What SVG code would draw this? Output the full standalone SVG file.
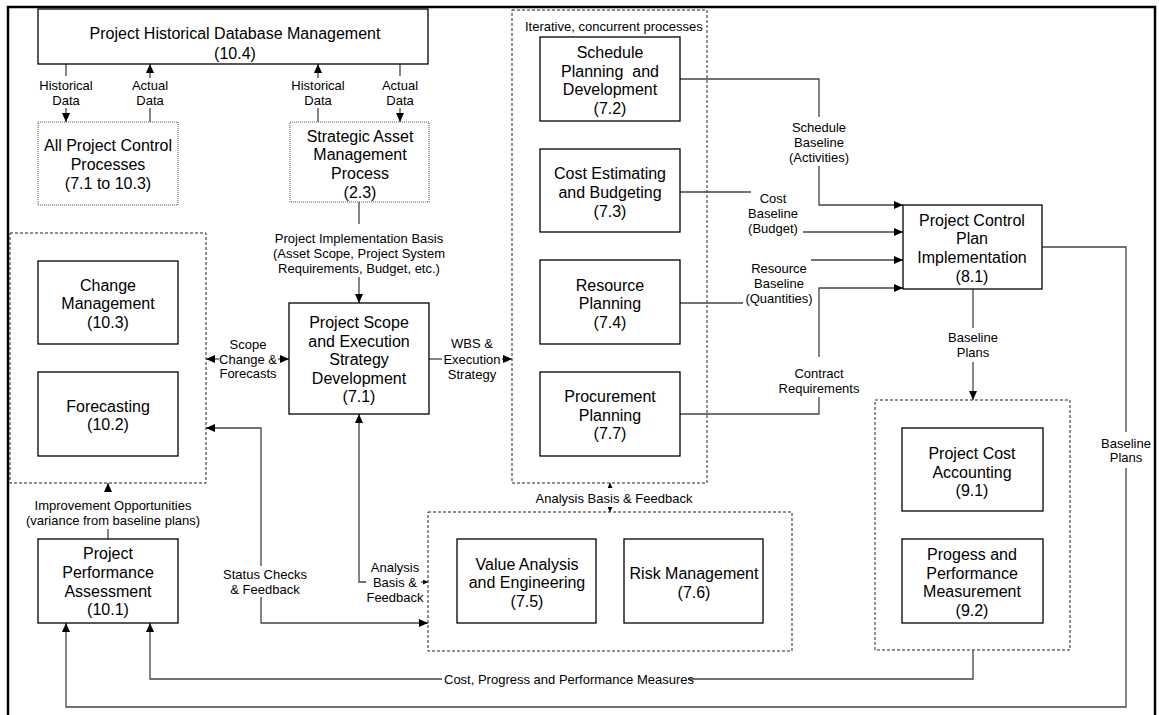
<svg xmlns="http://www.w3.org/2000/svg" width="1159" height="715" viewBox="0 0 1159 715">
  <style>
    .box { fill: #fff; stroke: #000; stroke-width: 1.3; }
    .dot { fill: #fff; stroke: #555; stroke-width: 1; stroke-dasharray: 1 1; }
    .dash { fill: none; stroke: #222; stroke-width: 1; stroke-dasharray: 3 2; }
    .ln { fill: none; stroke: #444; stroke-width: 1.3; }
    .t { font-family: "Liberation Sans", Arial, sans-serif; font-size: 16px; text-anchor: middle; fill: #000; }
    .s { font-family: "Liberation Sans", Arial, sans-serif; font-size: 13px; text-anchor: middle; fill: #000; }
  </style>
  <defs>
    <marker id="ah" markerUnits="userSpaceOnUse" viewBox="0 0 9 8" markerWidth="9" markerHeight="8" refX="9" refY="4" orient="auto">
      <path d="M0,0 L9,4 L0,8 z" fill="#000"/>
    </marker>
    <marker id="sm" markerUnits="userSpaceOnUse" viewBox="0 0 5 5" markerWidth="5" markerHeight="5" refX="5" refY="2.5" orient="auto">
      <path d="M0,0 L5,2.5 L0,5 z" fill="#000"/>
    </marker>
  </defs>

  <rect x="8" y="7" width="1147" height="720" fill="#fff" stroke="#000" stroke-width="2.5"/>

  <!-- grouping frames -->
  <g id="group-change">
    <rect class="dash" x="10" y="233" width="196" height="250"/>
  </g>
  <g id="group-iterative">
    <rect class="dash" x="512" y="10" width="195" height="473"/>
    <text class="s" x="525" y="31" style="text-anchor:start">Iterative, concurrent processes</text>
  </g>
  <g id="group-analysis">
    <rect class="dash" x="428" y="512" width="364" height="139"/>
  </g>
  <g id="group-measurement">
    <rect class="dash" x="875" y="400" width="195" height="250"/>
  </g>

  <!-- connectors -->
  <g id="connectors">
    <!-- historical database exchanges -->
    <path class="ln" d="M66,64 L66,76"/>
    <path class="ln" d="M66,108 L66,122" marker-end="url(#ah)"/>
    <text class="s" x="66" y="89.5">Historical</text><text class="s" x="66" y="104.5">Data</text>
    <path class="ln" d="M150,78 L150,64" marker-end="url(#ah)"/>
    <path class="ln" d="M150,108 L150,122"/>
    <text class="s" x="150" y="89.5">Actual</text><text class="s" x="150" y="104.5">Data</text>
    <path class="ln" d="M318,78 L318,64" marker-end="url(#ah)"/>
    <path class="ln" d="M318,108 L318,122"/>
    <text class="s" x="318" y="89.5">Historical</text><text class="s" x="318" y="104.5">Data</text>
    <path class="ln" d="M400,64 L400,76"/>
    <path class="ln" d="M400,108 L400,122" marker-end="url(#ah)"/>
    <text class="s" x="400" y="89.5">Actual</text><text class="s" x="400" y="104.5">Data</text>

    <!-- implementation basis -->
    <path class="ln" d="M359,202 L359,224"/>
    <path class="ln" d="M359,277 L359,303" marker-end="url(#ah)"/>
    <text class="s" x="359" y="242.5">Project Implementation Basis</text>
    <text class="s" x="359" y="257.5">(Asset Scope, Project System</text>
    <text class="s" x="359" y="272.5">Requirements, Budget, etc.)</text>

    <!-- scope change & forecasts -->
    <path class="ln" d="M219,359 L206,359" marker-end="url(#ah)"/>
    <path class="ln" d="M278,359 L289,359" marker-end="url(#ah)"/>
    <text class="s" x="248" y="348.5">Scope</text>
    <text class="s" x="248" y="363.5">Change &amp;</text>
    <text class="s" x="248" y="377.5">Forecasts</text>

    <!-- status checks & feedback -->
    <path class="ln" d="M261,566 L261,428 L206,428" marker-end="url(#ah)"/>
    <path class="ln" d="M261,597 L261,623 L428,623" marker-end="url(#ah)"/>
    <text class="s" x="265" y="578.5">Status Checks</text>
    <text class="s" x="265" y="593.5">&amp; Feedback</text>

    <!-- analysis basis & feedback (scope) -->
    <path class="ln" d="M366,582 L359,582 L359,414" marker-end="url(#ah)"/>
    <path class="ln" d="M421,582 L428,582" marker-end="url(#sm)"/>
    <text class="s" x="395" y="571.5">Analysis</text>
    <text class="s" x="395" y="586.5">Basis &amp;</text>
    <text class="s" x="395" y="601.5">Feedback</text>

    <!-- WBS & execution strategy -->
    <path class="ln" d="M429,359 L442,359"/>
    <path class="ln" d="M502,359 L512,359" marker-end="url(#ah)"/>
    <text class="s" x="472" y="347.5">WBS &amp;</text>
    <text class="s" x="472" y="363.5">Execution</text>
    <text class="s" x="472" y="378.5">Strategy</text>

    <!-- analysis basis & feedback (iterative) -->
    <path class="ln" d="M610,488 L610,483" marker-end="url(#sm)"/>
    <path class="ln" d="M610,507 L610,512" marker-end="url(#sm)"/>
    <text class="s" x="614" y="502.5">Analysis Basis &amp; Feedback</text>

    <!-- baselines into control plan -->
    <path class="ln" d="M680,79 L819,79 L819,117"/>
    <path class="ln" d="M819,166 L819,205 L903,205" marker-end="url(#ah)"/>
    <text class="s" x="819" y="131.5">Schedule</text>
    <text class="s" x="819" y="146.5">Baseline</text>
    <text class="s" x="819" y="161.5">(Activities)</text>

    <path class="ln" d="M680,192 L751,192"/>
    <path class="ln" d="M803,232 L903,232" marker-end="url(#ah)"/>
    <text class="s" x="773" y="202.5">Cost</text>
    <text class="s" x="773" y="217.5">Baseline</text>
    <text class="s" x="773" y="232.5">(Budget)</text>

    <path class="ln" d="M680,303 L743,303"/>
    <path class="ln" d="M811,260 L903,260" marker-end="url(#ah)"/>
    <text class="s" x="779" y="272.5">Resource</text>
    <text class="s" x="779" y="287.5">Baseline</text>
    <text class="s" x="779" y="302.5">(Quantities)</text>

    <path class="ln" d="M680,414 L819,414 L819,397"/>
    <path class="ln" d="M819,357 L819,288 L903,288" marker-end="url(#ah)"/>
    <text class="s" x="819" y="377.5">Contract</text>
    <text class="s" x="819" y="392.5">Requirements</text>

    <!-- baseline plans down -->
    <path class="ln" d="M973,289 L973,328"/>
    <path class="ln" d="M973,362 L973,400" marker-end="url(#ah)"/>
    <text class="s" x="973" y="341.5">Baseline</text>
    <text class="s" x="973" y="356.5">Plans</text>

    <!-- baseline plans loop to assessment -->
    <path class="ln" d="M1042,247 L1126,247 L1126,432"/>
    <path class="ln" d="M1126,468 L1126,707 L66,707 L66,623" marker-end="url(#ah)"/>
    <text class="s" x="1126" y="447.5">Baseline</text>
    <text class="s" x="1126" y="461.5">Plans</text>

    <!-- measures to assessment -->
    <path class="ln" d="M973,650 L973,679 L688,679"/>
    <path class="ln" d="M442,679 L150,679 L150,623" marker-end="url(#ah)"/>
    <text class="s" x="569" y="683.5">Cost, Progress and Performance Measures</text>

    <!-- improvement opportunities -->
    <path class="ln" d="M108,539 L108,529"/>
    <path class="ln" d="M108,492 L108,483" marker-end="url(#ah)"/>
    <text class="s" x="113" y="509.5">Improvement Opportunities</text>
    <text class="s" x="113" y="524.5">(variance from baseline plans)</text>
  </g>

  <!-- nodes -->
  <g id="n-database">
    <rect class="box" x="38" y="9" width="390" height="55"/>
    <text class="t" x="235" y="38.5">Project Historical Database Management</text>
    <text class="t" x="235" y="58.5">(10.4)</text>
  </g>
  <g id="n-all-control">
    <rect class="dot" x="38" y="122" width="140" height="83"/>
    <text class="t" x="108" y="150.5">All Project Control</text>
    <text class="t" x="108" y="169.5">Processes</text>
    <text class="t" x="108" y="188.5">(7.1 to 10.3)</text>
  </g>
  <g id="n-strategic">
    <rect class="dot" x="290" y="122" width="139" height="80"/>
    <text class="t" x="360" y="141.5">Strategic Asset</text>
    <text class="t" x="360" y="159.5">Management</text>
    <text class="t" x="360" y="178.5">Process</text>
    <text class="t" x="360" y="197.5">(2.3)</text>
  </g>
  <g id="n-scope">
    <rect class="box" x="289" y="303" width="140" height="111"/>
    <text class="t" x="359" y="327.5">Project Scope</text>
    <text class="t" x="359" y="346.5">and Execution</text>
    <text class="t" x="359" y="364.5">Strategy</text>
    <text class="t" x="359" y="383.5">Development</text>
    <text class="t" x="359" y="401.5">(7.1)</text>
  </g>
  <g id="n-change">
    <rect class="box" x="38" y="261" width="140" height="83"/>
    <text class="t" x="108" y="290.5">Change</text>
    <text class="t" x="108" y="308.5">Management</text>
    <text class="t" x="108" y="327.5">(10.3)</text>
  </g>
  <g id="n-forecasting">
    <rect class="box" x="38" y="372" width="140" height="84"/>
    <text class="t" x="108" y="411.5">Forecasting</text>
    <text class="t" x="108" y="429.5">(10.2)</text>
  </g>
  <g id="n-assessment">
    <rect class="box" x="38" y="539" width="140" height="84"/>
    <text class="t" x="108" y="558.5">Project</text>
    <text class="t" x="108" y="577.5">Performance</text>
    <text class="t" x="108" y="596.5">Assessment</text>
    <text class="t" x="108" y="614.5">(10.1)</text>
  </g>
  <g id="n-schedule">
    <rect class="box" x="540" y="37" width="140" height="84"/>
    <text class="t" x="610" y="57.5">Schedule</text>
    <text class="t" x="610" y="76.5">Planning&#160; and</text>
    <text class="t" x="610" y="94.5">Development</text>
    <text class="t" x="610" y="113.5">(7.2)</text>
  </g>
  <g id="n-cost">
    <rect class="box" x="540" y="149" width="140" height="83"/>
    <text class="t" x="610" y="178.5">Cost Estimating</text>
    <text class="t" x="610" y="197.5">and Budgeting</text>
    <text class="t" x="610" y="216.5">(7.3)</text>
  </g>
  <g id="n-resource">
    <rect class="box" x="540" y="260" width="140" height="84"/>
    <text class="t" x="610" y="290.5">Resource</text>
    <text class="t" x="610" y="308.5">Planning</text>
    <text class="t" x="610" y="327.5">(7.4)</text>
  </g>
  <g id="n-procurement">
    <rect class="box" x="540" y="372" width="140" height="84"/>
    <text class="t" x="610" y="401.5">Procurement</text>
    <text class="t" x="610" y="420.5">Planning</text>
    <text class="t" x="610" y="438.5">(7.7)</text>
  </g>
  <g id="n-value">
    <rect class="box" x="457" y="539" width="139" height="84"/>
    <text class="t" x="527" y="569.5">Value Analysis</text>
    <text class="t" x="527" y="587.5">and Engineering</text>
    <text class="t" x="527" y="606.5">(7.5)</text>
  </g>
  <g id="n-risk">
    <rect class="box" x="624" y="539" width="139" height="84"/>
    <text class="t" x="694" y="578.5">Risk Management</text>
    <text class="t" x="694" y="597.5">(7.6)</text>
  </g>
  <g id="n-control-plan">
    <rect class="box" x="903" y="205" width="139" height="84"/>
    <text class="t" x="972" y="225.5">Project Control</text>
    <text class="t" x="972" y="243.5">Plan</text>
    <text class="t" x="972" y="262.5">Implementation</text>
    <text class="t" x="972" y="281.5">(8.1)</text>
  </g>
  <g id="n-cost-accounting">
    <rect class="box" x="902" y="428" width="141" height="83"/>
    <text class="t" x="972" y="458.5">Project Cost</text>
    <text class="t" x="972" y="477.5">Accounting</text>
    <text class="t" x="972" y="495.5">(9.1)</text>
  </g>
  <g id="n-progress">
    <rect class="box" x="902" y="539" width="141" height="84"/>
    <text class="t" x="972" y="559.5">Progess and</text>
    <text class="t" x="972" y="578.5">Performance</text>
    <text class="t" x="972" y="596.5">Measurement</text>
    <text class="t" x="972" y="615.5">(9.2)</text>
  </g>
</svg>
